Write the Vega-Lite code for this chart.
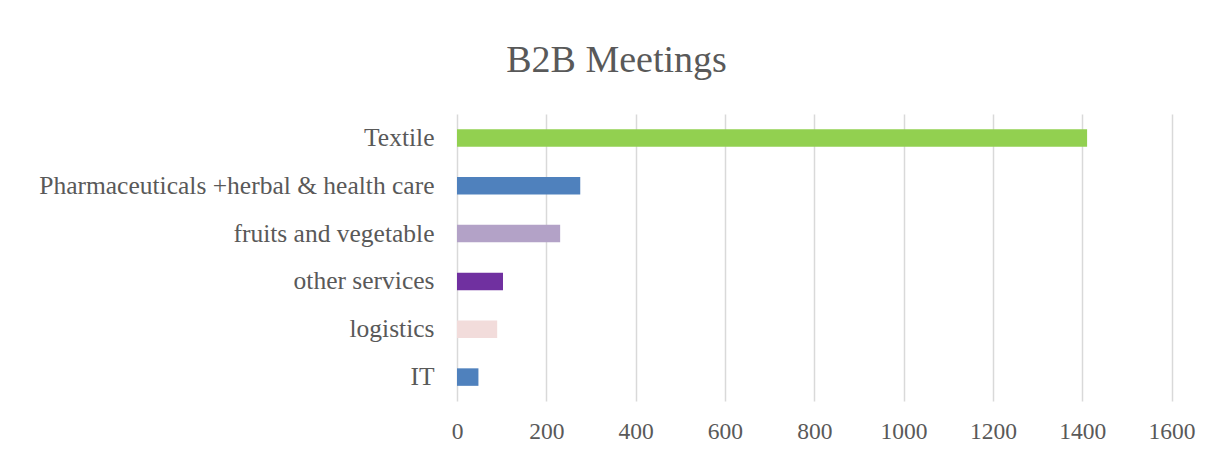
{
  "$schema": "https://vega.github.io/schema/vega-lite/v6.json",
  "autosize": "none",
  "padding": {"left": 457, "top": 114, "right": 40, "bottom": 53},
  "width": 714.5,
  "height": 287,
  "background": "white",
  "title": {
    "text": "B2B Meetings",
    "font": "Liberation Serif",
    "fontSize": 38,
    "fontWeight": "normal",
    "color": "#595959",
    "anchor": "middle",
    "frame": "group",
    "dx": -197.7,
    "baseline": "alphabetic",
    "offset": 4
  },
  "data": {
    "values": [
      {"sector": "Textile ", "meetings": 1411},
      {"sector": "Pharmaceuticals +herbal & health care", "meetings": 276},
      {"sector": "fruits and vegetable ", "meetings": 231},
      {"sector": "other services ", "meetings": 103},
      {"sector": "logistics", "meetings": 90},
      {"sector": "IT", "meetings": 48}
    ]
  },
  "mark": {"type": "bar"},
  "encoding": {
    "y": {
      "field": "sector",
      "type": "nominal",
      "sort": null,
      "scale": {"paddingInner": 0.634, "paddingOuter": 0.317},
      "axis": {
        "title": null,
        "domain": false,
        "ticks": false,
        "grid": false,
        "labelFont": "Liberation Serif",
        "labelFontSize": 25.5,
        "labelColor": "#595959",
        "labelPadding": 23,
        "labelLimit": 0
      }
    },
    "x": {
      "field": "meetings",
      "type": "quantitative",
      "scale": {"domain": [0, 1600], "nice": false},
      "axis": {
        "title": null,
        "values": [0, 200, 400, 600, 800, 1000, 1200, 1400, 1600],
        "format": "d",
        "domain": false,
        "ticks": false,
        "grid": true,
        "gridColor": "#d9d9d9",
        "gridWidth": 1.5,
        "labelFont": "Liberation Serif",
        "labelFontSize": 23.5,
        "labelColor": "#595959",
        "labelPadding": 18,
        "labelFlush": false
      }
    },
    "color": {
      "field": "sector",
      "type": "nominal",
      "legend": null,
      "scale": {
        "domain": ["Textile ", "Pharmaceuticals +herbal & health care", "fruits and vegetable ", "other services ", "logistics", "IT"],
        "range": ["#92d050", "#4f81bd", "#b3a2c7", "#7030a0", "#f2dcdb", "#4f81bd"]
      }
    }
  },
  "config": {
    "view": {"stroke": null}
  }
}
